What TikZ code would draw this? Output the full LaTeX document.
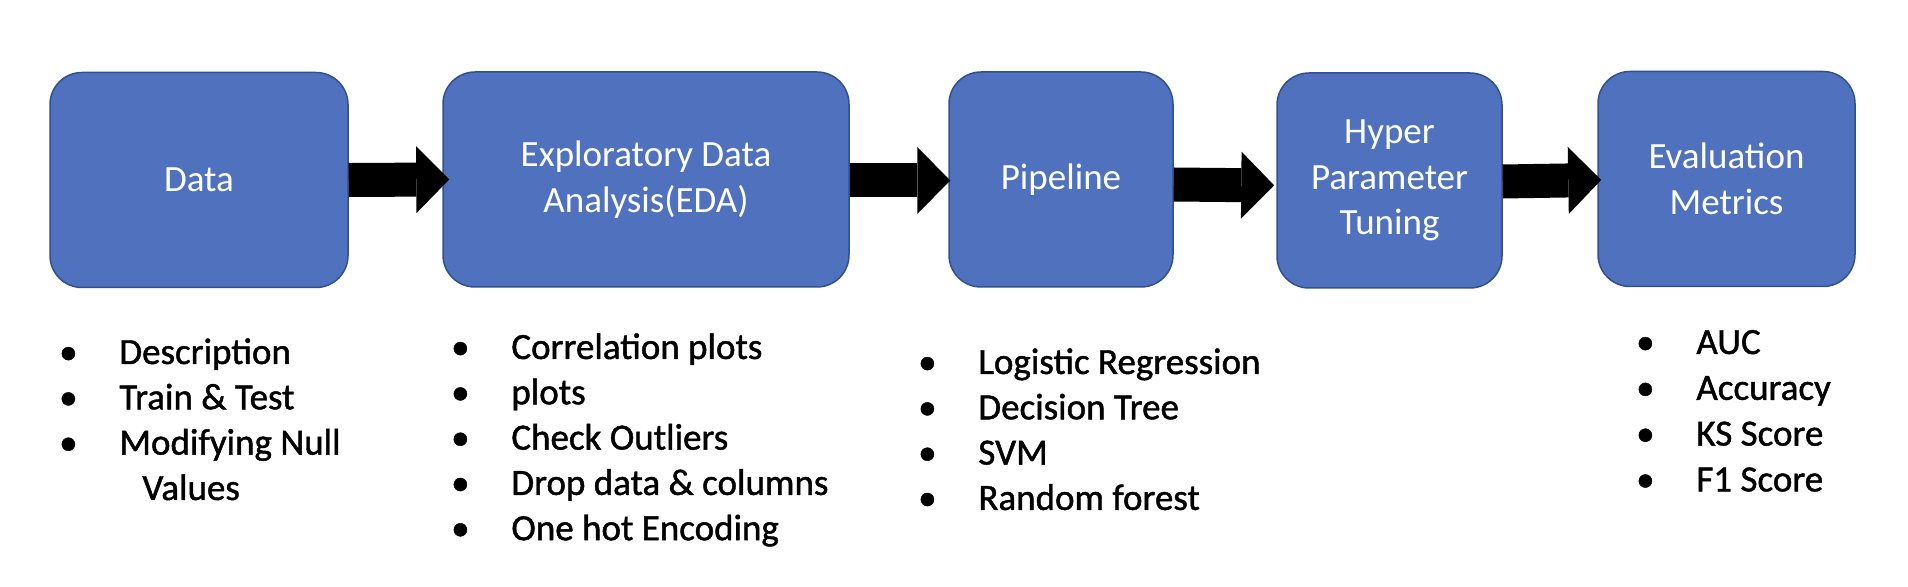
\documentclass[tikz,border=0pt]{standalone}
\usepackage{fontspec}
\setmainfont{Carlito}
\newfontfamily\listfont[FakeBold=1.2]{Carlito}
\usetikzlibrary{arrows.meta}
\definecolor{boxfill}{HTML}{4F71BE}
\definecolor{boxline}{HTML}{2F528F}
\newcommand{\bul}[1]{\makebox[0pt]{\textbullet}\hspace{25.5pt}#1}
\begin{document}
\begin{tikzpicture}[x=0.5pt,y=-0.5pt,
  stage/.style={rounded corners=16pt, fill=boxfill, draw=boxline, line width=0.75pt,
    text=white, align=center, minimum height=107.5pt, inner sep=0pt,
    font=\fontsize{18.5}{22.75}\selectfont},
  blockarrow/.style={line width=17pt, draw=black,
    -{Triangle[length=16.5pt, width=33.5pt, line width=0pt]}},
  item/.style={anchor=base west, inner sep=0pt, text=black,
    font=\listfont\fontsize{18.5}{22.75}\selectfont}]
\useasboundingbox (0,0) rectangle (1908,587);

% stages
\node[stage, minimum width=149pt]   (data)  at (199,180)    {Data};
\node[stage, minimum width=203pt]   (eda)   at (646,179.5)  {Exploratory Data\\Analysis(EDA)};
\node[stage, minimum width=112pt]   (pipe)  at (1061,179.5) {Pipeline};
\node[stage, minimum width=112.5pt] (hyper) at (1389.5,180.5) {Hyper\\Parameter\\Tuning};
\node[stage, minimum width=128.5pt] (eval)  at (1726.5,179) {Evaluation\\Metrics};

% block arrows
\draw[blockarrow, shorten >=-3.5pt] (data.east) -- (eda.west);
\draw[blockarrow, shorten >=-1pt] ([yshift=-0.5pt]eda.east) -- ([yshift=-0.5pt]pipe.west);
\draw[blockarrow, shorten >=1pt] ([yshift=-2.5pt]pipe.east) -- ([yshift=-2.5pt]hyper.west);
\draw[blockarrow, shorten >=-2pt] ([yshift=-0.5pt]hyper.east) -- ([yshift=-0.5pt]eval.west);

% lists
\foreach \t [count=\i from 0] in {Description, Train \& Test, Modifying Null}
  \node[item] (dl\i) at (68,{364+45.3*\i}) {\bul{\t}};
\node[item] (dl3) at (142,500) {Values};

\foreach \t [count=\i from 0] in {Correlation plots, plots, Check Outliers, Drop data \& columns, One hot Encoding}
  \node[item] (el\i) at (460,{359+45.3*\i}) {\bul{\t}};

\foreach \t [count=\i from 0] in {Logistic Regression, Decision Tree, SVM, Random forest}
  \node[item] (pl\i) at (927,{374+45.3*\i}) {\bul{\t}};

\foreach \t [count=\i from 0] in {AUC, Accuracy, KS Score, F1 Score}
  \node[item] (ml\i) at (1645,{354+45.8*\i}) {\bul{\t}};
\end{tikzpicture}
\end{document}
